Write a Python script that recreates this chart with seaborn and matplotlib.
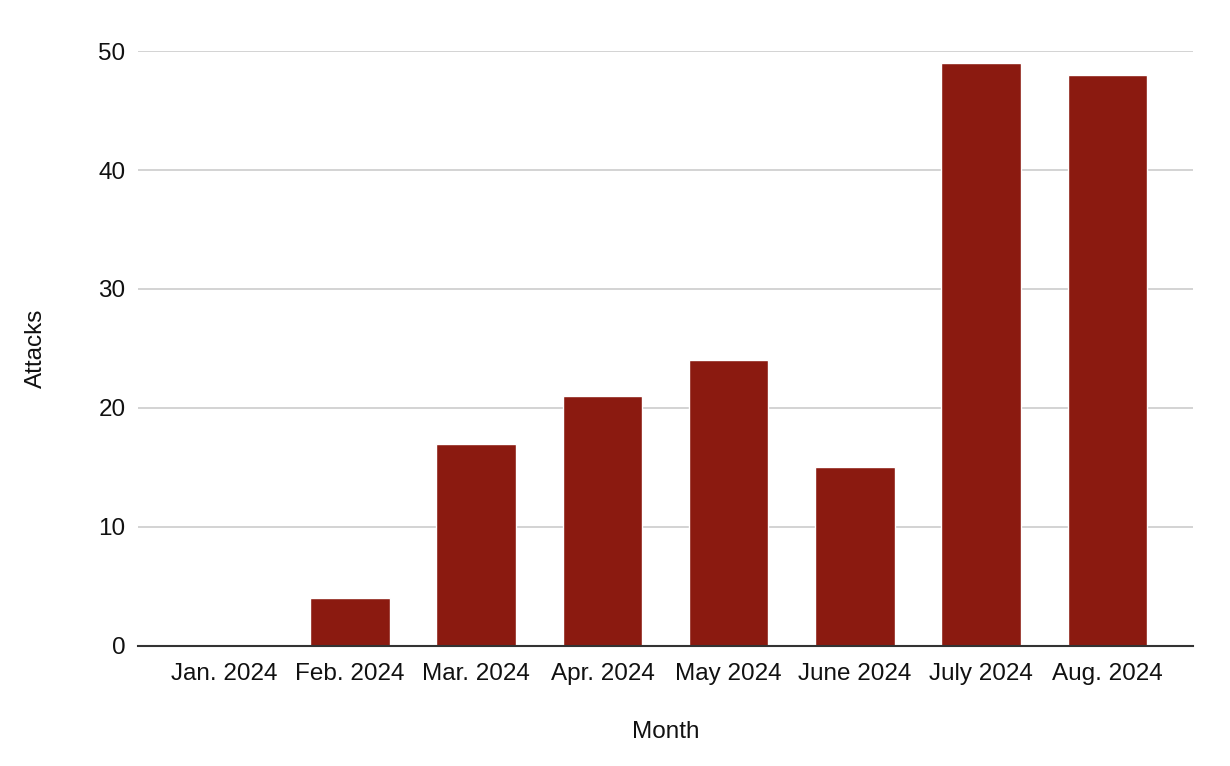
import pandas as pd
import seaborn as sns
import matplotlib.pyplot as plt

# Monthly attack counts
months = ['Jan. 2024', 'Feb. 2024', 'Mar. 2024', 'Apr. 2024',
          'May 2024', 'June 2024', 'July 2024', 'Aug. 2024']
attacks = [0, 4, 17, 21, 24, 15, 49, 48]
y_ticks = [0, 10, 20, 30, 40, 50]

df = pd.DataFrame({'Month': months, 'Attacks': attacks})

sns.set_style('white')
plt.rcParams['font.family'] = ['Liberation Sans', 'DejaVu Sans']

fig = plt.figure(figsize=(12.3, 7.66), dpi=100)
ax = fig.add_axes([0.1122, 0.1567, 0.8578, 0.7767])

sns.barplot(data=df, x='Month', y='Attacks', color='#8b1a10',
            width=0.63, saturation=1, ax=ax, zorder=3)

ax.set_xlim(-0.68, 7.68)
ax.set_ylim(0, 50)
ax.set_yticks(y_ticks)
ax.yaxis.grid(True, color='#cccccc', linewidth=1.2, zorder=0)
ax.set_axisbelow(True)

for side in ['top', 'right', 'left']:
    ax.spines[side].set_visible(False)
ax.spines['bottom'].set_color('#333333')
ax.spines['bottom'].set_linewidth(1.5)
ax.spines['bottom'].set_zorder(4)

ax.tick_params(axis='both', length=0, labelsize=17.5, colors='#111111')
ax.tick_params(axis='y', pad=9)
ax.tick_params(axis='x', pad=12)

ax.set_xlabel('Month', fontsize=17.5, labelpad=26, color='#111111')
ax.set_ylabel('Attacks', fontsize=17.5, labelpad=37, color='#111111')

fig.savefig('out.png', dpi=100)
